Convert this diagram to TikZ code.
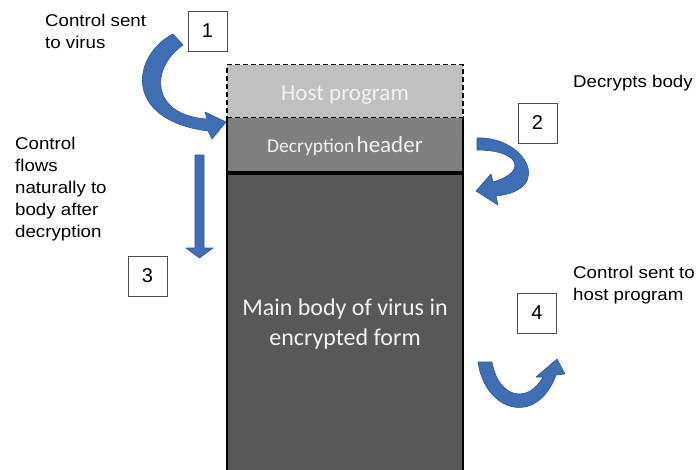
\documentclass[tikz,border=0pt]{standalone}
\usepackage{fontspec}
\setmainfont{Liberation Sans}
\newfontfamily\lblfont[FakeStretch=1.1]{Liberation Sans}
\newfontfamily\calfont{Carlito}
\definecolor{arrowblue}{RGB}{64,110,180}
\definecolor{arrowedge}{RGB}{44,86,150}
\definecolor{hostgray}{RGB}{192,192,192}
\definecolor{headgray}{RGB}{127,127,127}
\definecolor{bodygray}{RGB}{88,88,88}
\definecolor{lighttext}{RGB}{242,242,242}
\tikzset{
  numbox/.style={draw=black!70, line width=0.6pt, fill=white, minimum width=39pt, minimum height=40pt, inner sep=0pt, font=\fontsize{20}{22}\selectfont},
  lbl/.style={anchor=base west, inner sep=0pt, align=left, font=\lblfont\fontsize{17}{22}\selectfont},
  layer/.style={minimum width=236pt, inner sep=0pt, line width=1.6pt, text=lighttext},
  blockarrow/.style={fill=arrowblue, draw=arrowedge, line width=0.6pt, line join=round}
}
\begin{document}
\begin{tikzpicture}[x=1pt,y=-1pt]
\useasboundingbox (0,0) rectangle (700,469);
% layers
\node[layer, fill=headgray, draw=black, minimum height=55pt, text height=19pt, text depth=3pt, font=\calfont] (header) at (345,144.5)
  {{\fontsize{19.5}{22}\selectfont Decryption} {\fontsize{23}{26}\selectfont header}};
\node[layer, fill=bodygray, draw=black, minimum height=300pt, align=center, font=\calfont\fontsize{24}{30}\selectfont] (body) at (345,324)
  {Main body of virus in\\encrypted form};
\node[layer, fill=hostgray, draw=black, dash pattern=on 5pt off 3pt, minimum height=53pt, text height=20pt, text depth=2pt, font=\calfont\fontsize{23}{26}\selectfont] (host) at (345,91) {Host program};
% number boxes
\node[numbox] (n1) at (207.5,31) {1};
\node[numbox] (n2) at (537.5,123) {2};
\node[numbox] (n3) at (147.5,276) {3};
\node[numbox] (n4) at (537,313) {4};
% labels (anchored at the baseline of their last line)
\node[lbl] (l1) at (45,48) {Control sent\\to virus};
\node[lbl] (l2) at (573,87) {Decrypts body};
\node[lbl] (l3) at (15,237) {Control\\flows\\naturally to\\body after\\decryption};
\node[lbl] (l4) at (573,300) {Control sent to\\host program};
% arrow 1
\draw[blockarrow] (173,34) .. controls (132,55) and (122,120) .. (208,131)
  -- (212,139) -- (226,122) -- (205,112) -- (207,119)
  .. controls (150,115) and (150,68) .. (183,45) -- cycle;
% arrow 2
\draw[blockarrow] (477,138) .. controls (525,136) and (555,190) .. (496,196)
  -- (498,205) -- (476,191) -- (491,174) -- (493,182)
  .. controls (528,172) and (520,150) .. (477,150) -- cycle;
% arrow 3
\draw[blockarrow] (195,155) -- (204,155) -- (204,248) -- (213,248) -- (199.5,258)
  -- (186,248) -- (195,248) -- cycle;
% arrow 4
\draw[blockarrow] (478,362) .. controls (485,412) and (537,427) .. (556,375)
  -- (565,374) -- (557,359) -- (536,377) -- (543,377)
  .. controls (529,403) and (499,400) .. (492,362) -- cycle;
\end{tikzpicture}
\end{document}
